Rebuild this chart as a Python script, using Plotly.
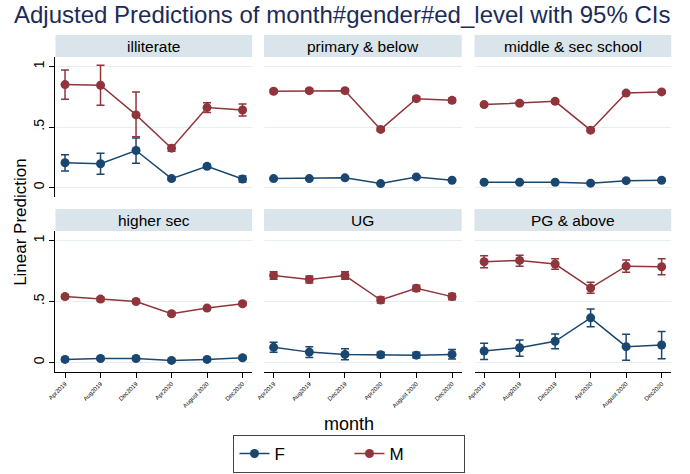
import plotly.graph_objects as go

months = ["Apr2019", "Aug2019", "Dec2019", "Apr2020", "August 2020", "Dec2020"]
ed_levels = ["illiterate", "primary & below", "middle & sec school",
             "higher sec", "UG", "PG & above"]

# Female estimates and 95% CI bounds, by education level
f_illiterate = [0.205, 0.197, 0.306, 0.074, 0.175, 0.070]
f_illiterate_lo = [0.137, 0.110, 0.200, 0.060, 0.160, 0.045]
f_illiterate_hi = [0.270, 0.284, 0.410, 0.090, 0.190, 0.095]

f_primary = [0.074, 0.074, 0.080, 0.033, 0.088, 0.060]
f_primary_lo = [0.066, 0.066, 0.072, 0.026, 0.079, 0.052]
f_primary_hi = [0.082, 0.082, 0.088, 0.040, 0.097, 0.068]

f_middle = [0.044, 0.044, 0.044, 0.036, 0.057, 0.060]
f_middle_lo = [0.038, 0.038, 0.038, 0.030, 0.050, 0.053]
f_middle_hi = [0.050, 0.050, 0.050, 0.042, 0.064, 0.067]

f_highersec = [0.025, 0.033, 0.033, 0.017, 0.025, 0.039]
f_highersec_lo = [0.016, 0.023, 0.023, 0.009, 0.016, 0.027]
f_highersec_hi = [0.034, 0.043, 0.043, 0.025, 0.034, 0.051]

f_ug = [0.124, 0.085, 0.066, 0.063, 0.060, 0.066]
f_ug_lo = [0.083, 0.040, 0.022, 0.041, 0.036, 0.028]
f_ug_hi = [0.165, 0.130, 0.113, 0.083, 0.083, 0.107]

f_pg = [0.094, 0.121, 0.174, 0.366, 0.130, 0.143]
f_pg_lo = [0.025, 0.052, 0.113, 0.292, 0.019, 0.030]
f_pg_hi = [0.157, 0.185, 0.234, 0.438, 0.231, 0.254]

# Male estimates and 95% CI bounds, by education level
m_illiterate = [0.850, 0.845, 0.600, 0.325, 0.660, 0.640]
m_illiterate_lo = [0.730, 0.680, 0.420, 0.300, 0.620, 0.590]
m_illiterate_hi = [0.970, 1.010, 0.790, 0.350, 0.700, 0.690]

m_primary = [0.795, 0.800, 0.800, 0.480, 0.734, 0.720]
m_primary_lo = [0.780, 0.785, 0.785, 0.465, 0.718, 0.703]
m_primary_hi = [0.810, 0.815, 0.815, 0.495, 0.750, 0.737]

m_middle = [0.685, 0.696, 0.712, 0.474, 0.780, 0.790]
m_middle_lo = [0.673, 0.684, 0.699, 0.462, 0.768, 0.778]
m_middle_hi = [0.697, 0.708, 0.725, 0.486, 0.792, 0.802]

m_highersec = [0.540, 0.520, 0.500, 0.400, 0.446, 0.482]
m_highersec_lo = [0.525, 0.505, 0.486, 0.386, 0.432, 0.467]
m_highersec_hi = [0.555, 0.535, 0.514, 0.414, 0.460, 0.497]

m_ug = [0.713, 0.680, 0.713, 0.512, 0.609, 0.540]
m_ug_lo = [0.683, 0.651, 0.683, 0.487, 0.584, 0.514]
m_ug_hi = [0.743, 0.709, 0.743, 0.537, 0.634, 0.566]

m_pg = [0.826, 0.837, 0.807, 0.611, 0.790, 0.785]
m_pg_lo = [0.777, 0.790, 0.765, 0.567, 0.740, 0.720]
m_pg_hi = [0.876, 0.880, 0.850, 0.658, 0.840, 0.850]

yticks = [0, 0.5, 1]
yticktext = ["0", ".5", "1"]

F_COLOR = "#1a476f"
M_COLOR = "#90353b"
STRIP = "#d9e5eb"
GRID = "#e6eef1"
FONT = "Liberation Sans, Arial, sans-serif"

female = [
    (f_illiterate, f_illiterate_lo, f_illiterate_hi),
    (f_primary, f_primary_lo, f_primary_hi),
    (f_middle, f_middle_lo, f_middle_hi),
    (f_highersec, f_highersec_lo, f_highersec_hi),
    (f_ug, f_ug_lo, f_ug_hi),
    (f_pg, f_pg_lo, f_pg_hi),
]
male = [
    (m_illiterate, m_illiterate_lo, m_illiterate_hi),
    (m_primary, m_primary_lo, m_primary_hi),
    (m_middle, m_middle_lo, m_middle_hi),
    (m_highersec, m_highersec_lo, m_highersec_hi),
    (m_ug, m_ug_lo, m_ug_hi),
    (m_pg, m_pg_lo, m_pg_hi),
]

W, H = 690, 474
# pixel layout of panels
col_px = [(48, 247), (259, 459), (472, 671)]
row_px = [(57, 197), (231, 372)]   # plot area top/bottom
strip_px = [(35, 57), (209, 231)]

fig = go.Figure()


def add_series(idx, vals, lo, hi, color, name, show):
    ax = "" if idx == 0 else str(idx + 1)
    fig.add_trace(go.Scatter(
        x=months, y=vals, mode="lines+markers", name=name,
        legendgroup=name, showlegend=show,
        line=dict(color=color, width=1.5),
        marker=dict(color=color, size=9, symbol="circle"),
        error_y=dict(type="data", symmetric=False,
                     array=[h - v for h, v in zip(hi, vals)],
                     arrayminus=[v - l for v, l in zip(vals, lo)],
                     color=color, thickness=1.5, width=4),
        xaxis="x" + ax, yaxis="y" + ax,
    ))


for i in range(6):
    add_series(i, *female[i], F_COLOR, "F", i == 0)
    add_series(i, *male[i], M_COLOR, "M", i == 0)

layout = dict(
    width=W, height=H,
    margin=dict(l=0, r=0, t=0, b=0),
    paper_bgcolor="white", plot_bgcolor="white",
    font=dict(family=FONT, color="black"),
    showlegend=True,
    legend=dict(orientation="h", x=345.5 / W, xanchor="center",
                y=1 - 473 / H, yanchor="bottom",
                bordercolor="#444444", borderwidth=1, font=dict(size=17),
                entrywidth=70, entrywidthmode="pixels",
                bgcolor="white", traceorder="normal"),
)

shapes = []
annotations = []
for i in range(6):
    r, c = divmod(i, 3)
    ax = "" if i == 0 else str(i + 1)
    x0, x1 = col_px[c]
    yt, yb = row_px[r]
    layout["xaxis" + ax] = dict(
        domain=[x0 / W, x1 / W], anchor="y" + ax,
        type="category", categoryorder="array", categoryarray=months,
        range=[-0.27, 5.27], showgrid=False, zeroline=False,
        showline=(r == 1), linecolor="black", linewidth=1,
        ticks="outside" if r == 1 else "", ticklen=5, tickcolor="black",
        showticklabels=(r == 1), tickangle=-45,
        tickfont=dict(size=6, color="black"),
    )
    layout["yaxis" + ax] = dict(
        domain=[1 - yb / H, 1 - yt / H], anchor="x" + ax,
        range=[-0.078, 1.078], tickvals=yticks, ticktext=yticktext,
        showgrid=True, gridcolor=GRID, gridwidth=1, zeroline=False,
        showline=(c == 0), linecolor="black", linewidth=1,
        ticks="outside" if c == 0 else "", ticklen=5, tickcolor="black",
        showticklabels=(c == 0), tickangle=-90,
        tickfont=dict(size=14, color="black"),
    )
    s0, s1 = strip_px[r]
    shapes.append(dict(type="rect", xref="paper", yref="paper",
                       x0=x0 / W, x1=x1 / W, y0=1 - s1 / H, y1=1 - s0 / H,
                       fillcolor=STRIP, line=dict(width=0), layer="below"))
    annotations.append(dict(text=ed_levels[i], xref="paper", yref="paper",
                            x=(x0 + x1) / 2 / W, y=1 - (s0 + s1) / 2 / H,
                            xanchor="center", yanchor="middle", showarrow=False,
                            font=dict(size=15.5, color="black")))

annotations.append(dict(text="Adjusted Predictions of month#gender#ed_level with 95% CIs",
                        xref="paper", yref="paper", x=4 / W, y=1 - 15 / H,
                        xanchor="left", yanchor="middle", showarrow=False,
                        font=dict(size=24, color="#1c2b57")))
annotations.append(dict(text="month", xref="paper", yref="paper",
                        x=345 / W, y=1 - 424 / H, xanchor="center", yanchor="middle",
                        showarrow=False, font=dict(size=18, color="black")))
annotations.append(dict(text="Linear Prediction", xref="paper", yref="paper",
                        x=12 / W, y=1 - 222 / H, xanchor="center", yanchor="middle",
                        textangle=-90, showarrow=False, font=dict(size=17, color="black")))

layout["shapes"] = shapes
layout["annotations"] = annotations
fig.update_layout(**layout)
fig.write_html("out.html", config={"displayModeBar": False},
               post_script="document.body.style.margin='0';document.body.style.padding='0';")
